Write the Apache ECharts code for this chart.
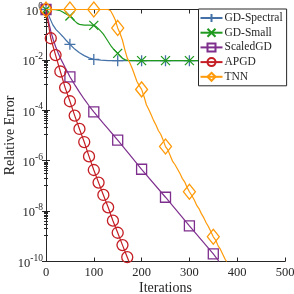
<!DOCTYPE html>
<html><head><meta charset="utf-8">
<script src="https://cdn.jsdelivr.net/npm/echarts@6/dist/echarts.min.js"></script>
<style>html,body{margin:0;padding:0;background:#fff}#c{width:294px;height:294px}</style>
</head><body><div id="c"></div><script>
// ---- data (log10 of relative error) ----
const seriesNames = ['GD-Spectral', 'GD-Small', 'ScaledGD', 'APGD', 'TNN'];
const xTickValues = [0, 100, 200, 300, 400, 500];
const yTickExponents = [0, -2, -4, -6, -8, -10];

const spectralIter = [0, 7, 14, 21, 28, 35, 42, 50, 60, 70, 80, 90, 100, 115, 130, 150, 200, 250, 300, 350, 400, 450, 500];
const spectralLog  = [0, -0.30, -0.60, -0.80, -0.93, -1.07, -1.22, -1.38, -1.57, -1.72, -1.83, -1.92, -1.98, -2.01, -2.03, -2.03, -2.03, -2.03, -2.03, -2.03, -2.03, -2.03, -2.03];
const spectralMarks = [0, 50, 100, 150, 200, 250, 300, 350, 400, 450];

const smallIter = [0, 10, 20, 30, 35, 40, 45, 50, 55, 60, 65, 70, 80, 90, 100, 105, 110, 115, 120, 125, 130, 135, 140, 145, 150, 155, 160, 165, 170, 180, 200, 250, 300, 350, 400, 450, 500];
const smallLog  = [0, 0, -0.01, -0.05, -0.10, -0.16, -0.21, -0.26, -0.33, -0.45, -0.54, -0.59, -0.62, -0.62, -0.63, -0.68, -0.77, -0.87, -0.98, -1.12, -1.27, -1.42, -1.54, -1.64, -1.74, -1.85, -1.94, -1.99, -2.02, -2.03, -2.03, -2.03, -2.03, -2.03, -2.03, -2.03, -2.03];
const smallMarks = [0, 50, 100, 150, 200, 250, 300, 350, 400, 450];

const scaledIter = [0, 5, 10, 15, 20, 25, 30, 35, 40, 45, 50, 60, 70, 80, 90, 100, 110, 120, 130, 140, 150, 175, 200, 250, 300, 350, 362];
const scaledLog  = [0, -0.45, -0.86, -1.19, -1.47, -1.71, -1.93, -2.11, -2.30, -2.48, -2.67, -2.98, -3.28, -3.56, -3.82, -4.06, -4.29, -4.52, -4.74, -4.96, -5.18, -5.76, -6.34, -7.45, -8.59, -9.70, -10];
const scaledMarks = [0, 50, 100, 150, 200, 250, 300, 350];

const apgdIter = [0, 10, 20, 30, 40, 50, 60, 70, 80, 90, 100, 110, 120, 130, 140, 150, 160, 170, 173.5];
const apgdLog  = [0, -1.14, -1.81, -2.46, -3.10, -3.64, -4.21, -4.74, -5.26, -5.83, -6.37, -6.87, -7.36, -7.85, -8.38, -8.86, -9.35, -9.83, -10];
const apgdMarks = [0, 10, 20, 30, 40, 50, 60, 70, 80, 90, 100, 110, 120, 130, 140, 150, 160, 170];

const tnnIter = [0, 50, 100, 130, 135, 140, 145, 150, 155, 160, 165, 170, 175, 180, 185, 190, 195, 200, 205, 210, 215, 220, 225, 230, 235, 240, 245, 250, 255, 260, 265, 270, 275, 280, 285, 290, 295, 300, 305, 310, 315, 320, 325, 330, 335, 340, 345, 350, 355, 360, 365, 370, 375, 378];
const tnnLog  = [0, 0, 0, 0, -0.05, -0.22, -0.42, -0.73, -0.95, -1.22, -1.60, -1.93, -2.10, -2.32, -2.58, -2.85, -3.02, -3.17, -3.45, -3.78, -3.97, -4.18, -4.40, -4.58, -4.80, -4.95, -5.18, -5.44, -5.57, -5.80, -6.03, -6.16, -6.33, -6.50, -6.70, -6.84, -7.05, -7.23, -7.38, -7.55, -7.76, -7.90, -8.10, -8.26, -8.46, -8.62, -8.82, -9.02, -9.15, -9.38, -9.52, -9.72, -9.92, -10];
const tnnMarks = [0, 50, 100, 150, 200, 250, 300, 350];

// ---- styling ----
const colors = ['#4472a8', '#1f9a1f', '#7e2f8e', '#c41e24', '#ff9a0a'];
const symbols = [
  'path://M0,5L10,5M5,0L5,10',
  'path://M0,0L10,10M10,0L0,10',
  'rect', 'circle', 'diamond'
];
const symbolSizes = [11, 9, 10, 11, [12, 15]];
const FONT = 'Liberation Serif';
const AX = '#262626';

function build(iters, logs, marks) {
  return iters.map((x, i) => {
    const item = { value: [x, Math.pow(10, logs[i])] };
    if (marks.indexOf(x) < 0) item.symbol = 'none';
    return item;
  });
}
const datasets = [
  build(spectralIter, spectralLog, spectralMarks),
  build(smallIter, smallLog, smallMarks),
  build(scaledIter, scaledLog, scaledMarks),
  build(apgdIter, apgdLog, apgdMarks),
  build(tnnIter, tnnLog, tnnMarks)
];

const series = [0, 1, 2, 3, 4].map(k => ({
  name: seriesNames[k],
  type: 'line',
  data: datasets[k],
  symbol: symbols[k],
  symbolSize: symbolSizes[k],
  clip: false,
  smooth: false,
  z: 2 + k,
  lineStyle: { color: colors[k], width: 1.2 },
  itemStyle: { color: 'rgba(0,0,0,0)', borderColor: colors[k], borderWidth: 1.3 },
  emphasis: { disabled: true },
  animation: false
}));

function yFmt(v) {
  const e = Math.round(Math.log10(v));
  return '{b|10}{s|' + e + '}';
}

const chart = echarts.init(document.getElementById('c'), null, { renderer: 'canvas' });
chart.setOption({
  animation: false,
  backgroundColor: '#fff',
  grid: { left: 46, right: 9, top: 9.5, bottom: 32.5, containLabel: false, outerBoundsMode: 'none' },
  legend: {
    data: seriesNames,
    orient: 'vertical',
    left: 198.5, top: 9,
    itemWidth: 22, itemHeight: 10, itemGap: 2.7,
    padding: [3, 4, 3, 1],
    backgroundColor: '#fff',
    borderColor: AX, borderWidth: 1, borderRadius: 0,
    textStyle: { fontFamily: FONT, fontSize: 11.5, color: AX, padding: [0, 0, 0, -3] },
    selectedMode: false,
    z: 10
  },
  xAxis: [{
    type: 'value', min: 0, max: 500, interval: 100,
    name: 'Iterations', nameLocation: 'middle', nameGap: 19.5, nameMoveOverlap: false,
    nameTextStyle: { fontFamily: FONT, fontSize: 14, color: AX },
    axisLine: { lineStyle: { color: AX, width: 1 } },
    axisTick: { inside: true, length: 4, lineStyle: { color: AX } },
    axisLabel: { fontFamily: FONT, fontSize: 12.5, color: AX, margin: 5 },
    splitLine: { show: false }
  }, {
    type: 'value', min: 0, max: 500, interval: 100, position: 'top',
    axisLine: { lineStyle: { color: AX, width: 1 } },
    axisTick: { inside: true, length: 4, lineStyle: { color: AX } },
    axisLabel: { show: false },
    splitLine: { show: false }
  }],
  yAxis: [{
    type: 'log', logBase: 10, min: 1e-10, max: 1, interval: 2,
    name: 'Relative Error', nameLocation: 'middle', nameGap: 29, nameRotate: 90, nameMoveOverlap: false,
    nameTextStyle: { fontFamily: FONT, fontSize: 14, color: AX },
    axisLine: { lineStyle: { color: AX, width: 1 } },
    axisTick: { inside: true, length: 4, lineStyle: { color: AX } },
    minorTick: { show: true, splitNumber: 10, length: 2, lineStyle: { color: AX } },
    axisLabel: {
      formatter: yFmt, margin: 3,
      rich: {
        b: { fontFamily: FONT, fontSize: 12.5, color: AX, verticalAlign: 'bottom' },
        s: { fontFamily: FONT, fontSize: 9.5, color: AX, verticalAlign: 'top', padding: [0, 0, 7, 0] }
      }
    },
    splitLine: { show: false }
  }, {
    type: 'log', logBase: 10, min: 1e-10, max: 1, interval: 2, position: 'right',
    axisLine: { lineStyle: { color: AX, width: 1 } },
    axisTick: { inside: true, length: 4, lineStyle: { color: AX } },
    minorTick: { show: true, splitNumber: 10, length: 2, lineStyle: { color: AX } },
    axisLabel: { show: false },
    splitLine: { show: false }
  }],
  series: series
});
</script></body></html>
